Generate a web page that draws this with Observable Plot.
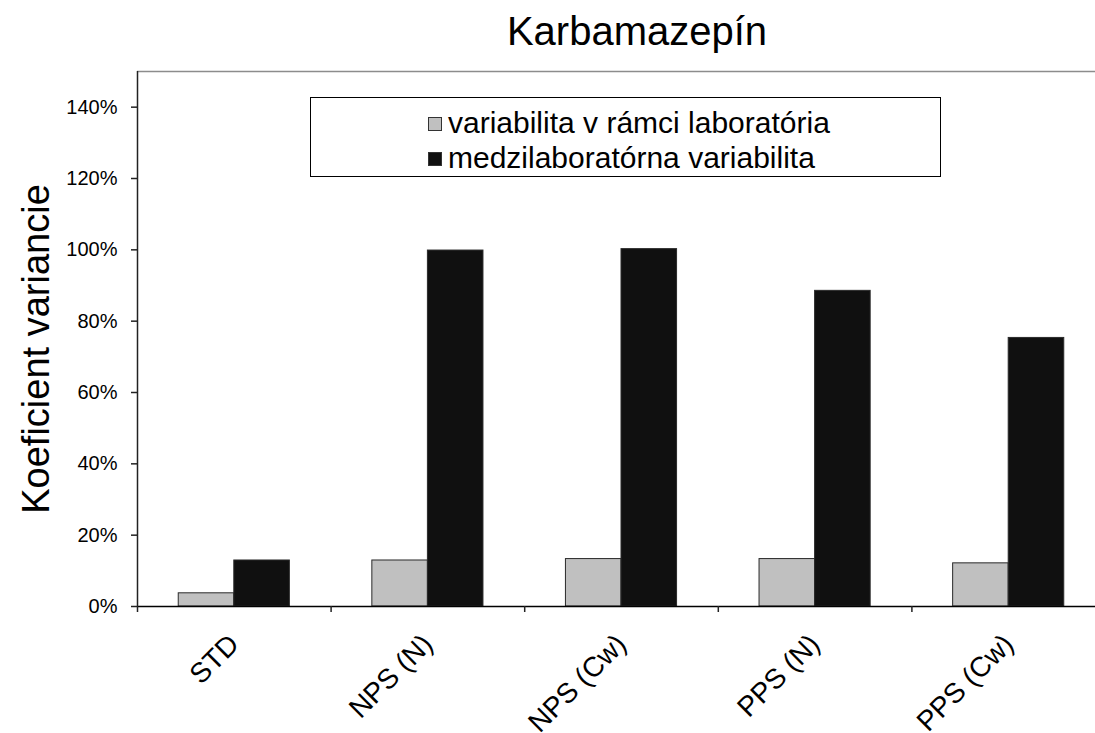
<!DOCTYPE html>
<html>
<head>
<meta charset="utf-8">
<script src="https://cdn.jsdelivr.net/npm/d3@7"></script>
<script src="https://cdn.jsdelivr.net/npm/@observablehq/plot@0.6"></script>
<style>
  html, body { margin: 0; padding: 0; background: #fff; }
  #wrap { position: relative; width: 1095px; height: 733px; overflow: hidden; font-family: "Liberation Sans", Arial, sans-serif; }
  #title { position: absolute; left: 0; width: 1274px; top: 11px; text-align: center; font-size: 40px; line-height: 1; color: #000; }
  #legend { position: absolute; left: 310px; top: 97px; width: 629px; height: 78px; border: 1.5px solid #000; box-sizing: content-box; }
  .row { position: absolute; left: 117px; font-size: 30px; line-height: 1; white-space: nowrap; color: #000; }
  .sw { display: inline-block; width: 12px; height: 12px; border: 1px solid #333; margin-right: 6px; vertical-align: 2px; }
  svg { position: absolute; left: 0; top: 0; overflow: visible; }
</style>
</head>
<body>
<div id="wrap">
  <div id="title"></div>
  <div id="chart"></div>
  <div id="legend"></div>
</div>
<script>
const title = "Karbamazepín";
const yTitle = "Koeficient variancie";
const categories = ["STD", "NPS (N)", "NPS (Cw)", "PPS (N)", "PPS (Cw)"];
const seriesNames = ["variabilita v rámci laboratória", "medzilaboratórna variabilita"];
const seriesColors = ["#c0c0c0", "#101010"];
const withinLab = [3.7, 12.9, 13.3, 13.3, 12.1];
const betweenLab = [12.9, 99.8, 100.2, 88.5, 75.3];
const yTicks = [0, 20, 40, 60, 80, 100, 120, 140];

const barW = 0.287;
const rows = [];
categories.forEach((c, i) => {
  rows.push({cat: c, i, series: seriesNames[0], value: withinLab[i], x1: i + 0.5 - barW, x2: i + 0.5, color: seriesColors[0]});
  rows.push({cat: c, i, series: seriesNames[1], value: betweenLab[i], x1: i + 0.5, x2: i + 0.5 + barW, color: seriesColors[1]});
});

const font = '"Liberation Sans", Arial, sans-serif';
const chart = Plot.plot({
  width: 1095,
  height: 733,
  marginLeft: 137,
  marginRight: -10,
  marginTop: 71,
  marginBottom: 127,
  style: {fontFamily: font, color: "#000", background: "transparent"},
  x: {domain: [0, categories.length], axis: null},
  y: {domain: [0, 150], axis: null},
  marks: [
    Plot.ruleY([150], {stroke: "#8c8c8c", strokeWidth: 1.5}),
    Plot.rectY(rows, {x1: "x1", x2: "x2", y1: 0, y2: "value", fill: "color", stroke: "#2a2a2a", strokeWidth: 1}),
    Plot.ruleY([0], {stroke: "#000", strokeWidth: 1.5}),
    Plot.ruleX([0], {stroke: "#222", strokeWidth: 1.5}),
    Plot.axisY({ticks: yTicks, tickSize: 6, tickPadding: 14, tickFormat: d => d + "%", fontSize: 20, stroke: "#222", strokeWidth: 1.5, label: null}),
    Plot.axisX({ticks: d3.range(0, categories.length + 1), tickSize: 6, tickFormat: () => "", stroke: "#222", strokeWidth: 1.5, label: null}),
    Plot.text(categories, {x: (d, i) => i + 0.5, y: 0, rotate: -45, textAnchor: "end", lineAnchor: "middle", dy: 33, dx: 0, fontSize: 28, fill: "#000"}),
    Plot.text([yTitle], {frameAnchor: "left", rotate: -90, dx: -101, dy: 10, textAnchor: "middle", lineAnchor: "middle", fontSize: 38, fill: "#000"})
  ]
});
document.getElementById("chart").appendChild(chart);
document.getElementById("title").textContent = title;

const legend = document.getElementById("legend");
seriesNames.forEach((name, k) => {
  const row = document.createElement("div");
  row.className = "row";
  row.style.top = (k === 0 ? 10 : 45) + "px";
  const sw = document.createElement("span");
  sw.className = "sw";
  sw.style.background = seriesColors[k];
  row.appendChild(sw);
  row.appendChild(document.createTextNode(name));
  legend.appendChild(row);
});
</script>
</body>
</html>
